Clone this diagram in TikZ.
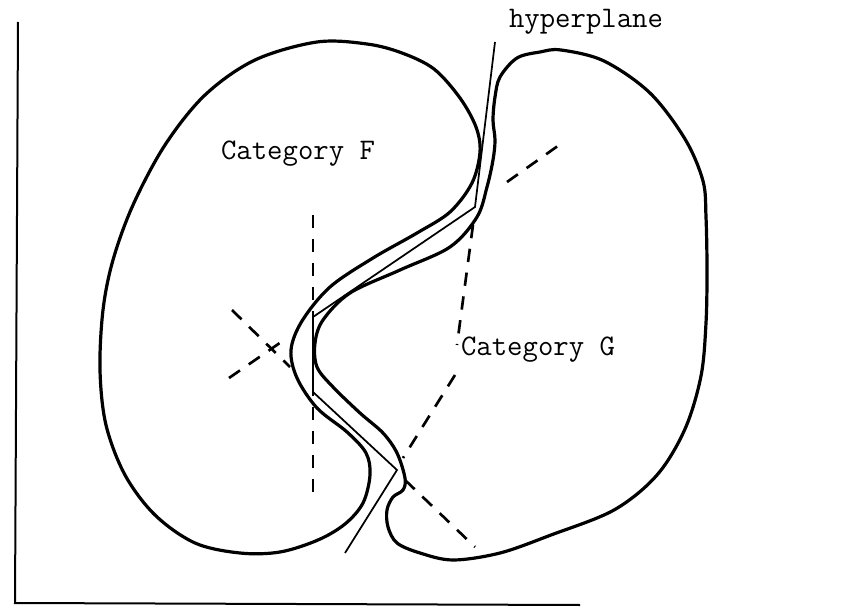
\documentclass[tikz,border=0pt]{standalone}
\usepackage{fontspec}
\begin{document}
\begin{tikzpicture}[x=0.75pt,y=-0.75pt,
  blob/.style={line width=2.4pt,line join=round},
  hyper/.style={line width=1.3pt,line join=miter},
  dsh/.style={line width=2pt,dash pattern=on 10pt off 8pt},
  axis/.style={line width=1.5pt},
  lbl/.style={font=\ttfamily\fontsize{22.4}{24}\selectfont,anchor=base,inner sep=0pt}]
\useasboundingbox (0,0) rectangle (861,610);
% axes
\coordinate (top) at (18,22);
\coordinate (orig) at (15,603);
\coordinate (xend) at (580,605);
\draw[axis] (top) -- (orig) -- (xend);
% Category F blob
\draw[blob] plot[smooth cycle,tension=0.55] coordinates {
 (317,42) (367,44) (402,53) (434,69) (460,98) (476,127) (480,152) (472,183)
 (450,212) (417,233) (373,258) (330,287) (302,321) (291,350) (297,378)
 (317,408) (347,432) (366,453) (370,475) (363,503) (345,524) (318,540)
 (280,552) (240,553) (195,543) (155,515) (125,475) (106,425) (100,370)
 (103,310) (113,260) (133,205) (165,145) (205,95) (255,60)};
% Category G blob
\draw[blob] plot[smooth cycle,tension=0.55] coordinates {
 (561,50) (604,61) (650,93) (685,139) (703,181) (706,217) (707,270)
 (706,323) (701,376) (685,429) (657,475) (614,510) (551,535) (500,553)
 (453,560) (420,553) (397,543) (388,527) (387,510) (393,497) (403,490)
 (405,478) (397,453) (383,433) (360,413) (333,387) (317,367) (315,343)
 (323,320) (350,293) (400,270) (450,247) (477,217) (487,187) (493,160)
 (495,140) (493,120) (495,97) (500,77) (517,58) (540,52)};
% hyperplane
\coordinate (h1) at (495,42);
\coordinate (h2) at (475,207);
\coordinate (h3) at (313,317);
\coordinate (h4) at (313,392);
\coordinate (h5) at (397,470);
\coordinate (h6) at (345,553);
\draw[hyper] (h1) -- (h2) -- (h3) -- (h4) -- (h5) -- (h6);
% dashed lines
\coordinate (d1a) at (313,215); \coordinate (d1b) at (313,500);
\coordinate (d2a) at (232,310); \coordinate (d2b) at (290,367);
\coordinate (d3a) at (229,378); \coordinate (d3b) at (287,338);
\coordinate (d4a) at (473,225); \coordinate (d4b) at (457,345);
\coordinate (d5a) at (455,375); \coordinate (d5b) at (403,458);
\coordinate (d6a) at (405,480); \coordinate (d6b) at (475,547);
\coordinate (d7a) at (507,182); \coordinate (d7b) at (562,143);
\draw[dsh] (d1a) -- (d1b);
\draw[dsh] (d2a) -- (d2b);
\draw[dsh] (d3a) -- (d3b);
\draw[dsh] (d4a) -- (d4b);
\draw[dsh] (d5a) -- (d5b);
\draw[dsh] (d6a) -- (d6b);
\draw[dsh] (d7a) -- (d7b);
% labels
\node[lbl] (lf) at (298,160) {Category F};
\node[lbl] (lg) at (538,355) {Category G};
\node[lbl] (lh) at (586,28) {hyperplane};
\end{tikzpicture}
\end{document}
